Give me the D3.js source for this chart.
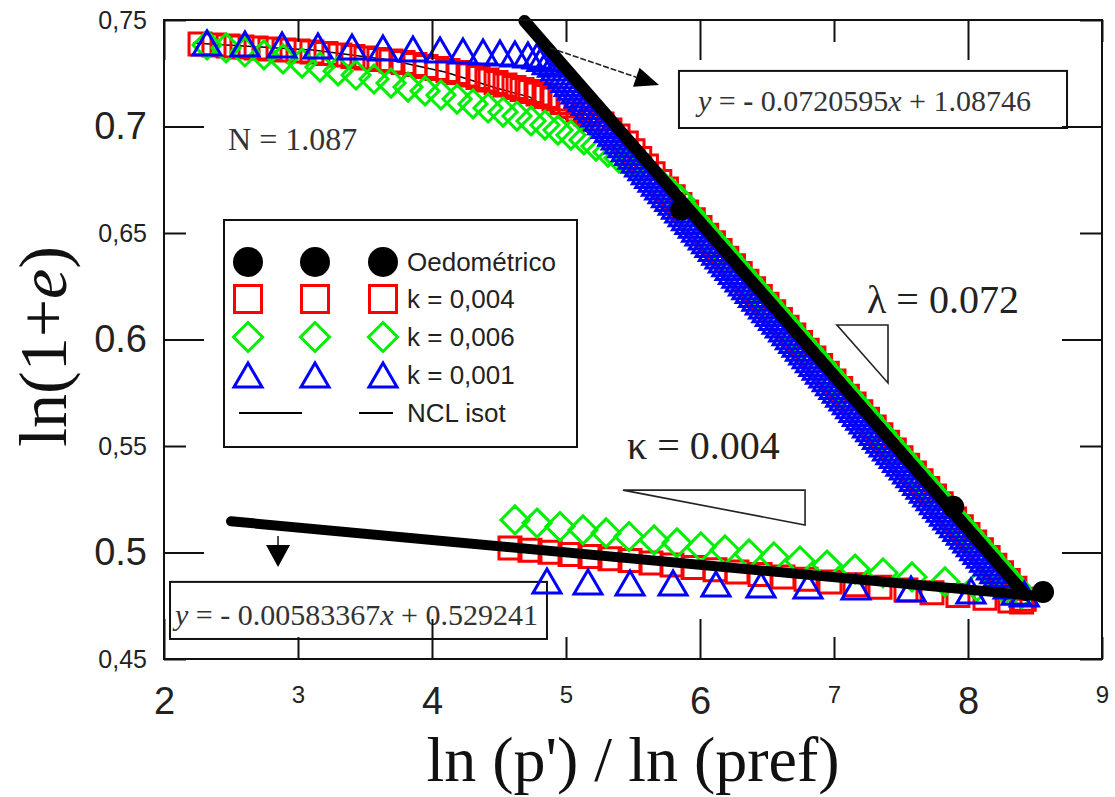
<!DOCTYPE html>
<html>
<head>
<meta charset="utf-8">
<script src="https://cdn.jsdelivr.net/npm/d3@7"></script>
<style>
  body { margin: 0; background: #fff; }
  svg { display: block; }
  text { white-space: pre; }
</style>
</head>
<body>
<svg id="chart" width="1115" height="797"></svg>
<script>
// ---------------- data ----------------
const xMajorTicks = [2, 4, 6, 8];
const xMinorTicks = [3, 5, 7, 9];
const yMajorTicks = [0.5, 0.6, 0.7];
const yMinorTicks = [0.45, 0.55, 0.65, 0.75];

const seriesNames = ["Oedométrico", "k = 0,004", "k = 0,006", "k = 0,001", "NCL isot"];

// fitted lines: normal compression (NCL) and unloading
const nclSlope = -0.0720595, nclIntercept = 1.08746;
const unlSlope = -0.00583367, unlIntercept = 0.529241;
const nclRange = [4.69, 8.43];
const unlRange = [2.5, 8.5];

const lambdaValue = "0.072";
const kappaValue = "0.004";
const nValue = "1.087";

// oedometric test points
const oedometric = [[5.86, 0.661], [7.89, 0.5215], [8.56, 0.4815]];

// isotropic NCL reference curve
const nclIsot = [[2.216, 0.7392], [2.836, 0.7369], [3.112, 0.7359], [3.687, 0.7312], [4.097, 0.7256],
  [4.478, 0.7181], [4.731, 0.7138], [5.216, 0.6951], [5.60, 0.6815], [8.43, 0.4801]];

// k = 0,004 (red squares)
const k004Loading = [
  [2.269,0.7387],[2.373,0.7383],[2.478,0.7378],[2.582,0.7373],[2.687,0.7369],[2.791,0.7364],[2.896,0.7359],
  [3.000,0.7354],[3.104,0.7350],[3.209,0.7343],[3.313,0.7336],[3.410,0.7329],[3.507,0.7322],[3.604,0.7315],
  [3.694,0.7308],[3.784,0.7300],[3.873,0.7291],[3.955,0.7282],[4.037,0.7272],[4.119,0.7263],[4.194,0.7254],
  [4.269,0.7242],[4.343,0.7230],[4.410,0.7218],[4.478,0.7207],[4.545,0.7195],[4.612,0.7183],[4.672,0.7174],
  [4.731,0.7164],[4.791,0.7153],[4.851,0.7141],[4.910,0.7129],[4.970,0.7113],[5.030,0.7096],[5.090,0.7077],
  [5.149,0.7059],[5.209,0.7035],[5.269,0.7012],[5.328,0.6984],[5.388,0.6955],
  [5.45,0.69223],[5.50,0.68863],[5.55,0.68503],[5.60,0.68143],[5.65,0.67782],[5.70,0.67422],[5.75,0.67062],
  [5.80,0.66701],[5.85,0.66341],[5.90,0.65981],[5.95,0.65620],[6.00,0.65260],[6.05,0.64900],[6.10,0.64540],
  [6.15,0.64179],[6.20,0.63819],[6.25,0.63459],[6.30,0.63098],[6.35,0.62738],[6.40,0.62378],[6.45,0.62017],
  [6.50,0.61657],[6.55,0.61297],[6.60,0.60937],[6.65,0.60576],[6.70,0.60216],[6.75,0.59856],[6.80,0.59495],
  [6.85,0.59135],[6.90,0.58775],[6.95,0.58414],[7.00,0.58054],[7.05,0.57694],[7.10,0.57334],[7.15,0.56973],
  [7.20,0.56613],[7.25,0.56253],[7.30,0.55892],[7.35,0.55532],[7.40,0.55172],[7.45,0.54811],[7.50,0.54451],
  [7.55,0.54091],[7.60,0.53731],[7.65,0.53370],[7.70,0.53010],[7.75,0.52650],[7.80,0.52289],[7.85,0.51929],
  [7.90,0.51569],[7.95,0.51208],[8.00,0.50848],[8.05,0.50488],[8.10,0.50128],[8.15,0.49767],[8.20,0.49407],
  [8.25,0.49047],[8.30,0.48686],[8.35,0.48326],[8.42,0.4781]
];
const k004Unloading = [
  [8.40,0.4768],[8.313,0.4772],[8.127,0.4785],[7.925,0.4798],[7.731,0.4811],[7.537,0.4824],[7.343,0.4837],
  [7.157,0.4849],[6.970,0.4862],[6.791,0.4874],[6.619,0.4885],[6.448,0.4897],[6.276,0.4908],[6.112,0.4919],
  [5.948,0.4930],[5.791,0.4941],[5.634,0.4951],[5.478,0.4962],[5.328,0.4971],[5.179,0.4981],[5.030,0.4991],
  [4.881,0.5001],[4.731,0.5011],[4.582,0.5021]
];

// k = 0,006 (green diamonds)
const k006Loading = [
  [2.321,0.7383],[2.463,0.7369],[2.604,0.7350],[2.746,0.7336],[2.888,0.7317],[3.030,0.7298],[3.164,0.7279],
  [3.299,0.7261],[3.433,0.7242],[3.567,0.7223],[3.694,0.7204],[3.821,0.7185],[3.948,0.7167],[4.067,0.7148],
  [4.187,0.7129],[4.306,0.7106],[4.418,0.7087],[4.530,0.7068],[4.634,0.7049],[4.739,0.7026],[4.843,0.7007],
  [4.940,0.6983],[5.037,0.6960],[5.134,0.6937],[5.224,0.6908],[5.313,0.6880],[5.396,0.6852],[5.478,0.6824],
  [5.560,0.6796],[5.634,0.6763],[5.709,0.6730],[5.784,0.6692],[5.851,0.6655],[5.918,0.6598],
  [5.95,0.65720],[6.00,0.65360],[6.05,0.65000],[6.10,0.64640],[6.15,0.64279],[6.20,0.63919],[6.25,0.63559],
  [6.30,0.63198],[6.35,0.62838],[6.40,0.62478],[6.45,0.62117],[6.50,0.61757],[6.55,0.61397],[6.60,0.61037],
  [6.65,0.60676],[6.70,0.60316],[6.75,0.59956],[6.80,0.59595],[6.85,0.59235],[6.90,0.58875],[6.95,0.58514],
  [7.00,0.58154],[7.05,0.57794],[7.10,0.57434],[7.15,0.57073],[7.20,0.56713],[7.25,0.56353],[7.30,0.55992],
  [7.35,0.55632],[7.40,0.55272],[7.45,0.54911],[7.50,0.54551],[7.55,0.54191],[7.60,0.53831],[7.65,0.53470],
  [7.70,0.53110],[7.75,0.52750],[7.80,0.52389],[7.85,0.52029],[7.90,0.51669],[7.95,0.51308],[8.00,0.50948],
  [8.05,0.50588],[8.10,0.50228],[8.15,0.49867],[8.20,0.49507],[8.25,0.49147],[8.30,0.48786],[8.35,0.48426],
  [8.40,0.48066]
];
const k006Unloading = [
  [8.276,0.4824],[8.067,0.4840],[7.828,0.4862],[7.582,0.4885],[7.366,0.4904],[7.157,0.4922],[6.948,0.4941],
  [6.746,0.4960],[6.552,0.4979],[6.366,0.4993],[6.187,0.5012],[6.007,0.5026],[5.828,0.5045],[5.657,0.5059],
  [5.470,0.5075],[5.299,0.5092],[5.127,0.5106],[4.955,0.5122],[4.784,0.5138],[4.619,0.5153]
];

// k = 0,001 (blue triangles)
const k001Loading = [
  [2.321,0.7373],[2.604,0.7369],[2.881,0.7364],[3.149,0.7359],[3.403,0.7354],[3.634,0.7350],[3.858,0.7345],
  [4.060,0.7340],[4.231,0.7336],[4.381,0.7331],[4.507,0.7326],[4.619,0.7322],[4.716,0.7317],[4.784,0.7312],
  [4.82,0.7300],[4.86,0.7285],
  [4.900,0.72737],[4.925,0.72557],[4.950,0.72376],[4.975,0.72196],[5.000,0.72016],[5.025,0.71836],
  [5.050,0.71656],[5.075,0.71476],[5.100,0.71296],[5.125,0.71115],[5.150,0.70935],[5.175,0.70755],
  [5.200,0.70575],[5.225,0.70395],[5.250,0.70215],[5.275,0.70034],[5.300,0.69854],[5.325,0.69674],
  [5.350,0.69494],[5.375,0.69314],[5.400,0.69134],[5.425,0.68953],[5.450,0.68773],[5.475,0.68593],
  [5.500,0.68413],[5.525,0.68233],[5.550,0.68053],[5.575,0.67873],[5.600,0.67693],[5.625,0.67512],
  [5.650,0.67332],[5.675,0.67152],[5.700,0.66972],[5.725,0.66792],[5.750,0.66612],[5.775,0.66431],
  [5.800,0.66251],[5.825,0.66071],[5.850,0.65891],[5.875,0.65711],[5.900,0.65531],[5.925,0.65350],
  [5.950,0.65170],[5.975,0.64990],[6.000,0.64810],[6.025,0.64630],[6.050,0.64450],[6.075,0.64270],
  [6.100,0.64090],[6.125,0.63909],[6.150,0.63729],[6.175,0.63549],[6.200,0.63369],[6.225,0.63189],
  [6.250,0.63009],[6.275,0.62828],[6.300,0.62648],[6.325,0.62468],[6.350,0.62288],[6.375,0.62108],
  [6.400,0.61928],[6.425,0.61747],[6.450,0.61567],[6.475,0.61387],[6.500,0.61207],[6.525,0.61027],
  [6.550,0.60847],[6.575,0.60667],[6.600,0.60487],[6.625,0.60306],[6.650,0.60126],[6.675,0.59946],
  [6.700,0.59766],[6.725,0.59586],[6.750,0.59406],[6.775,0.59225],[6.800,0.59045],[6.825,0.58865],
  [6.850,0.58685],[6.875,0.58505],[6.900,0.58325],[6.925,0.58144],[6.950,0.57964],[6.975,0.57784],
  [7.000,0.57604],[7.025,0.57424],[7.050,0.57244],[7.075,0.57064],[7.100,0.56884],[7.125,0.56703],
  [7.150,0.56523],[7.175,0.56343],[7.200,0.56163],[7.225,0.55983],[7.250,0.55803],[7.275,0.55622],
  [7.300,0.55442],[7.325,0.55262],[7.350,0.55082],[7.375,0.54902],[7.400,0.54722],[7.425,0.54541],
  [7.450,0.54361],[7.475,0.54181],[7.500,0.54001],[7.525,0.53821],[7.550,0.53641],[7.575,0.53461],
  [7.600,0.53281],[7.625,0.53100],[7.650,0.52920],[7.675,0.52740],[7.700,0.52560],[7.725,0.52380],
  [7.750,0.52200],[7.775,0.52019],[7.800,0.51839],[7.825,0.51659],[7.850,0.51479],[7.875,0.51299],
  [7.900,0.51119],[7.925,0.50938],[7.950,0.50758],[7.975,0.50578],[8.000,0.50398],[8.025,0.50218],
  [8.050,0.50038],[8.075,0.49858],[8.100,0.49678],[8.125,0.49497],[8.150,0.49317],[8.175,0.49137],
  [8.200,0.48957],[8.225,0.48777],[8.250,0.48597],[8.275,0.48416],[8.300,0.48236],[8.36,0.4795],
  [8.42,0.4786]
];
const k001Unloading = [
  [8.022,0.4800],[7.575,0.4810],[7.164,0.4819],[6.806,0.4824],[6.455,0.4829],[6.119,0.4833],[5.799,0.4838],
  [5.478,0.4838],[5.164,0.4843],[4.858,0.4847]
];

// ---------------- layout ----------------
const W = 1115, H = 797;
const margin = { top: 20, right: 13, bottom: 138, left: 164 };
const svg = d3.select("#chart");

const x = d3.scaleLinear().domain([2, 9]).range([margin.left, W - margin.right]);
const y = d3.scaleLinear().domain([0.45, 0.75]).range([H - margin.bottom, margin.top]);

const SANS = "'Liberation Sans', Arial, Helvetica, sans-serif";
const SERIF = "'Liberation Serif', 'Times New Roman', Times, serif";

const shapes = {
  square: r => `M${-r},${-r}h${2 * r}v${2 * r}h${-2 * r}Z`,
  diamond: r => `M0,${-r}L${r},0L0,${r}L${-r},0Z`,
  triangle: r => `M0,${-r * 1.143}L${r},${r * 0.571}L${-r},${r * 0.571}Z`
};

// ---------------- annotation boxes (drawn beneath the data) ----------------
const upperBox = { x0: 5.843, x1: 8.739, y0: 0.7261, y1: 0.6993 };
const lowerBox = { x0: 2.045, x1: 4.858, y0: 0.4862, y1: 0.4594 };
[upperBox, lowerBox].forEach(b => {
  svg.append("rect")
    .attr("x", x(b.x0)).attr("y", y(b.y0))
    .attr("width", x(b.x1) - x(b.x0)).attr("height", y(b.y1) - y(b.y0))
    .attr("fill", "#fff").attr("stroke", "#111").attr("stroke-width", 2);
});

function equation(g, slope, intercept, boldMinus) {
  g.append("tspan").attr("font-style", "italic").text("y");
  g.append("tspan").text(" = ");
  g.append("tspan").attr("font-weight", boldMinus ? "bold" : "normal").text("-");
  g.append("tspan").text(" " + Math.abs(slope));
  g.append("tspan").attr("font-style", "italic").text("x");
  g.append("tspan").text(" + " + intercept);
}
equation(svg.append("text").attr("x", x(5.985)).attr("y", y(0.7073))
  .attr("font-family", SERIF).attr("font-size", 30).attr("fill", "#333"), nclSlope, nclIntercept, true);
equation(svg.append("text").attr("x", x(2.082)).attr("y", y(0.4660))
  .attr("font-family", SERIF).attr("font-size", 30).attr("fill", "#333"), unlSlope, unlIntercept, false);

// ---------------- isotropic reference curve ----------------
const line = d3.line().x(d => x(d[0])).y(d => y(d[1]));
svg.append("path").datum(nclIsot).attr("d", line)
  .attr("fill", "none").attr("stroke", "#000").attr("stroke-width", 1.5);

// ---------------- markers ----------------
function drawSeries(data, shape, r, color) {
  svg.append("g").selectAll("path").data(data).join("path")
    .attr("transform", d => `translate(${x(d[0])},${y(d[1])})`)
    .attr("d", shapes[shape](r))
    .attr("fill", "none").attr("stroke", color).attr("stroke-width", 3);
}
drawSeries(k004Loading, "square", 11, "#ff0000");
drawSeries(k004Unloading, "square", 11, "#ff0000");
drawSeries(k006Loading, "diamond", 14, "#00ee00");
drawSeries(k006Unloading, "diamond", 14, "#00ee00");
drawSeries(k001Loading, "triangle", 14, "#0000ff");
drawSeries(k001Unloading, "triangle", 14, "#0000ff");

// ---------------- fitted lines ----------------
const nclPts = nclRange.map(v => [v, nclSlope * v + nclIntercept]);
const unlPts = unlRange.map(v => [v, unlSlope * v + unlIntercept]);
[nclPts, unlPts].forEach((pts, i) => {
  svg.append("path").datum(pts).attr("d", line)
    .attr("fill", "none").attr("stroke", "#000")
    .attr("stroke-width", i === 0 ? 12 : 10).attr("stroke-linecap", "round");
});

svg.append("g").selectAll("circle").data(oedometric).join("circle")
  .attr("cx", d => x(d[0])).attr("cy", d => y(d[1])).attr("r", 11).attr("fill", "#000");

// ---------------- arrows ----------------
function arrow(from, to, headLen, headHalf, dashed) {
  const x1 = x(from[0]), y1 = y(from[1]), x2 = x(to[0]), y2 = y(to[1]);
  const len = Math.hypot(x2 - x1, y2 - y1), ux = (x2 - x1) / len, uy = (y2 - y1) / len;
  const bx = x2 - ux * headLen, by = y2 - uy * headLen;
  svg.append("line").attr("x1", x1).attr("y1", y1).attr("x2", bx).attr("y2", by)
    .attr("stroke", "#222").attr("stroke-width", 1.6)
    .attr("stroke-dasharray", dashed ? "6,2" : null);
  svg.append("path")
    .attr("d", `M${x2},${y2}L${bx - uy * headHalf},${by + ux * headHalf}L${bx + uy * headHalf},${by - ux * headHalf}Z`)
    .attr("fill", "#000");
}
arrow([4.881, 0.7369], [5.694, 0.7195], 24, 10, true);
arrow([2.851, 0.5077], [2.851, 0.4932], 22, 12, false);

// ---------------- slope triangles and labels ----------------
const lambdaTri = [[7.022, 0.6068], [7.403, 0.6068], [7.403, 0.5796]];
const kappaTri = [[5.425, 0.5293], [6.784, 0.5293], [6.784, 0.5129]];
[lambdaTri, kappaTri].forEach(t => {
  svg.append("path").attr("d", line(t) + "Z")
    .attr("fill", "none").attr("stroke", "#222").attr("stroke-width", 1.6);
});
svg.append("text").attr("x", x(7.246)).attr("y", y(0.6124))
  .attr("font-family", SERIF).attr("font-size", 40).attr("fill", "#222")
  .text("λ = " + lambdaValue);
svg.append("text").attr("x", x(5.455)).attr("y", y(0.5439))
  .attr("font-family", SERIF).attr("font-size", 40).attr("fill", "#222")
  .text("κ = " + kappaValue);
svg.append("text").attr("x", x(2.478)).attr("y", y(0.6890))
  .attr("font-family", SERIF).attr("font-size", 32).attr("fill", "#333")
  .text("N = " + nValue);

// ---------------- frame and axes ----------------
svg.append("rect")
  .attr("x", margin.left).attr("y", margin.top)
  .attr("width", W - margin.left - margin.right).attr("height", H - margin.top - margin.bottom)
  .attr("fill", "none").attr("stroke", "#111").attr("stroke-width", 2);

function addAxis(axisFn, translate, values, len, pad, fmt, fontSize) {
  const g = svg.append("g").attr("transform", translate)
    .call(axisFn.tickValues(values).tickSizeInner(-len).tickSizeOuter(0).tickPadding(pad).tickFormat(fmt));
  g.select(".domain").remove();
  g.selectAll(".tick line").attr("stroke", "#111").attr("stroke-width", 2);
  g.selectAll(".tick text").attr("font-family", SANS).attr("font-size", fontSize).attr("fill", "#222");
  return g;
}
const bottomY = `translate(0,${y(0.45)})`, topY = `translate(0,${y(0.75)})`;
const leftX = `translate(${x(2)},0)`, rightX = `translate(${x(9)},0)`;
const majorFmtX = d3.format("d");
const majorFmtY = d3.format(".1f");
const minorFmtY = d => d.toFixed(2).replace(".", ",");
const none = () => "";

addAxis(d3.axisBottom(x), bottomY, xMajorTicks, 40, 28, majorFmtX, 38);
addAxis(d3.axisBottom(x), bottomY, xMinorTicks, 22, 27, majorFmtX, 24);
addAxis(d3.axisTop(x), topY, xMajorTicks, 40, 0, none, 10);
addAxis(d3.axisTop(x), topY, xMinorTicks, 22, 0, none, 10);
addAxis(d3.axisLeft(y), leftX, yMajorTicks, 40, 17, majorFmtY, 38);
addAxis(d3.axisLeft(y), leftX, yMinorTicks, 22, 17, minorFmtY, 25);
addAxis(d3.axisRight(y), rightX, yMajorTicks, 40, 0, none, 10);
addAxis(d3.axisRight(y), rightX, yMinorTicks, 22, 0, none, 10);

// axis titles
svg.append("text")
  .attr("x", (x(2) + x(9)) / 2).attr("y", 781)
  .attr("text-anchor", "middle").attr("font-family", SERIF).attr("font-size", 64).attr("fill", "#111")
  .text("ln (p') / ln (pref)");
const yTitle = svg.append("text")
  .attr("transform", `translate(66,${(y(0.45) + y(0.75)) / 2 + 7}) rotate(-90)`)
  .attr("text-anchor", "middle").attr("font-family", SERIF).attr("font-size", 68).attr("fill", "#111");
yTitle.append("tspan").text("ln(1+");
yTitle.append("tspan").attr("font-style", "italic").text("e");
yTitle.append("tspan").text(")");

// ---------------- legend ----------------
const legend = svg.append("g");
legend.append("rect").attr("x", 224).attr("y", 220).attr("width", 353).attr("height", 227)
  .attr("fill", "#fff").attr("stroke", "#111").attr("stroke-width", 2);
const legCols = [248, 315, 383];
const legRows = [262, 299, 337, 375, 413];
const legStyles = [
  { kind: "circle", r: 15, color: "#000" },
  { kind: "square", r: 13.5, color: "#ff0000" },
  { kind: "diamond", r: 14.5, color: "#00ee00" },
  { kind: "triangle", r: 14, color: "#0000ff", dy: 4 },
  { kind: "line", color: "#000" }
];
seriesNames.forEach((name, i) => {
  const s = legStyles[i], cy = legRows[i];
  if (s.kind === "circle") {
    legCols.forEach(cx => legend.append("circle").attr("cx", cx).attr("cy", cy).attr("r", s.r).attr("fill", s.color));
  } else if (s.kind === "line") {
    legend.append("line").attr("x1", 239).attr("x2", 302).attr("y1", cy).attr("y2", cy).attr("stroke", s.color).attr("stroke-width", 2);
    legend.append("line").attr("x1", 359).attr("x2", 393).attr("y1", cy).attr("y2", cy).attr("stroke", s.color).attr("stroke-width", 2);
  } else {
    legCols.forEach(cx => legend.append("path")
      .attr("transform", `translate(${cx},${cy + (s.dy || 0)})`)
      .attr("d", shapes[s.kind](s.r)).attr("fill", "none").attr("stroke", s.color).attr("stroke-width", 3));
  }
  legend.append("text").attr("x", 407).attr("y", cy).attr("dy", "0.35em")
    .attr("font-family", SANS).attr("font-size", 26).attr("fill", "#222").text(name);
});
</script>
</body>
</html>
